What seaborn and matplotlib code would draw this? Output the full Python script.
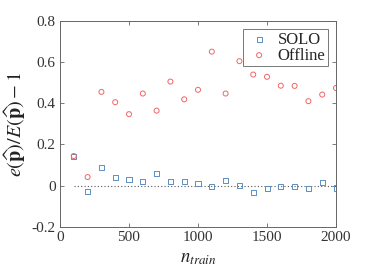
import pandas as pd
import matplotlib
matplotlib.use("Agg")
import matplotlib.pyplot as plt
import seaborn as sns

n_train = [100, 200, 300, 400, 500, 600, 700, 800, 900, 1000,
           1100, 1200, 1300, 1400, 1500, 1600, 1700, 1800, 1900, 2000]
solo = [0.144, -0.029, 0.089, 0.042, 0.031, 0.021, 0.057, 0.021, 0.021, 0.012,
        -0.006, 0.026, 0.003, -0.035, -0.013, -0.003, -0.006, -0.013, 0.018, -0.011]
offline = [0.144, 0.042, 0.455, 0.405, 0.347, 0.447, 0.364, 0.505, 0.419, 0.465,
           0.650, 0.447, 0.604, 0.539, 0.528, 0.485, 0.484, 0.410, 0.442, 0.474]

series = {"SOLO": (solo, "s", "#5b8ec4"), "Offline": (offline, "o", "#f06666")}

sns.set_theme(style="white")
plt.rcParams["font.family"] = ["Liberation Serif", "DejaVu Serif"]
plt.rcParams["mathtext.fontset"] = "stix"

fig = plt.figure(figsize=(3.71, 2.78), dpi=100)
ax = fig.add_axes([0.1617, 0.1835, 0.744, 0.742])

ax.plot([100, 2000], [0, 0], linestyle=(0, (1, 2)), color="#555555", linewidth=0.8, zorder=1)

for name, (vals, mk, col) in series.items():
    d = pd.DataFrame({"n_train": n_train, "value": vals})
    sns.scatterplot(data=d, x="n_train", y="value", marker=mk, s=13,
                    facecolor="none", edgecolor=col, linewidth=0.7,
                    label=name, ax=ax, zorder=2)

ax.set_xlim(0, 2000)
ax.set_ylim(-0.2, 0.8)
ax.set_xticks([0, 500, 1000, 1500, 2000])
ax.set_yticks([-0.2, 0, 0.2, 0.4, 0.6, 0.8])
ax.set_yticklabels(["-0.2", "0", "0.2", "0.4", "0.6", "0.8"])
ax.tick_params(direction="in", length=3, width=0.6, color="#666666",
               labelsize=11, labelcolor="#333333", top=True, right=True,
               bottom=True, left=True, pad=3)
for sp in ax.spines.values():
    sp.set_color("#666666")
    sp.set_linewidth(0.7)

ax.set_xlabel(r"$n_{train}$", fontsize=13.5, color="#222222", labelpad=4)
ax.set_ylabel(r"$e(\widehat{\mathbf{p}})/E(\widehat{\mathbf{p}})-1$", fontsize=14.5,
              color="#222222", labelpad=3)

leg = ax.legend(loc="upper right", fontsize=12, frameon=True,
                fancybox=False, edgecolor="#555555", borderpad=0.15,
                handletextpad=0.3, labelspacing=0.0, borderaxespad=0.5,
                handlelength=1.6)
leg.get_frame().set_linewidth(0.7)

fig.savefig("out.png", dpi=100)
